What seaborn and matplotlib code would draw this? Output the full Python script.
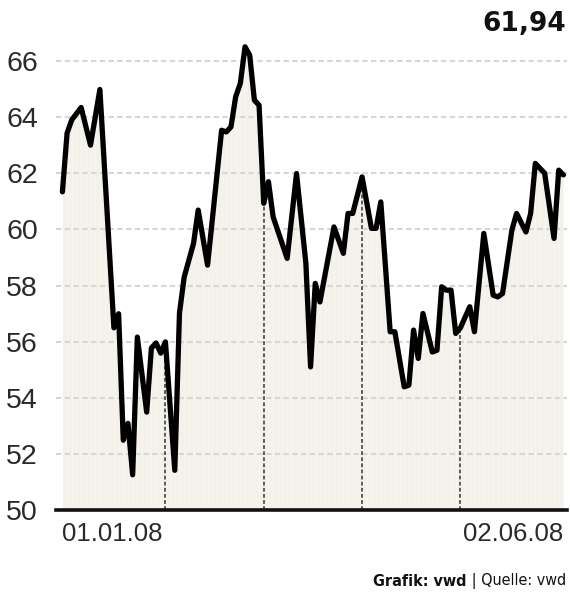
import numpy as np
import pandas as pd
import matplotlib
matplotlib.use("Agg")
import matplotlib.pyplot as plt
import seaborn as sns

# ---- data (trading-day index, price) ----
day = [0, 1, 2, 4, 6, 8, 11, 12, 13, 14, 15, 16, 18, 19, 20, 21, 22, 24, 25, 26,
       27, 28, 29, 31, 34, 35, 36, 37, 38, 39, 40, 41, 42, 43, 44, 45, 48, 50, 52, 53,
       54, 55, 58, 60, 61, 62, 64, 66, 67, 68, 70, 71, 73, 74, 75, 76, 77, 79, 80, 81,
       82, 83, 84, 85, 87, 88, 90, 92, 93, 94, 96, 97, 99, 100, 101, 103, 105, 106, 107]
price = [61.34, 63.43, 63.90, 64.34, 63.00, 64.98, 56.50, 57.00, 52.50, 53.10, 51.27, 56.17,
         53.50, 55.78, 55.96, 55.60, 56.00, 51.43, 57.02, 58.30,
         58.90, 59.50, 60.69, 58.73, 63.53, 63.47, 63.65, 64.72, 65.20, 66.50, 66.20, 64.60,
         64.42, 60.93, 61.70, 60.45, 58.97, 61.99, 58.79, 55.11,
         58.08, 57.42, 60.09, 59.15, 60.57, 60.57, 61.87, 60.04, 60.04, 60.98, 56.36, 56.36,
         54.40, 54.46, 56.42, 55.41, 57.01, 55.64, 55.70, 57.96,
         57.84, 57.84, 56.30, 56.50, 57.25, 56.36, 59.86, 57.66, 57.60, 57.72, 59.98, 60.57,
         59.91, 60.57, 62.35, 62.00, 59.68, 62.11, 61.94]
month_marks = [22, 43, 64, 85]
y_ticks = [50, 52, 54, 56, 58, 60, 62, 64, 66]
x_tick_pos = [0, 107]
x_tick_labels = ["01.01.08", "02.06.08"]
last_value = "61,94"
source_bold = "Grafik: vwd"
source_rest = " | Quelle: vwd"

df = pd.DataFrame({"day": day, "price": price})

sns.set_theme(style="white")
plt.rcParams["font.family"] = ["Liberation Sans", "DejaVu Sans"]

fig = plt.figure(figsize=(5.7, 5.96), dpi=100)
ax = fig.add_axes([0.098, 0.1435, 0.897, 0.811])

ymin, ymax = 50, 67.2
# fill under the line
ax.fill_between(df["day"], ymin, df["price"], color="#f3f1ea", lw=0, zorder=1)
# faint vertical stripes in the fill
stripe_x = np.arange(0, 108)
stripe_top = np.interp(stripe_x, df["day"], df["price"])
ax.vlines(stripe_x, ymin, stripe_top, color="white", lw=0.8, alpha=0.35, zorder=1.5)

# horizontal dashed grid
for yv in y_ticks[1:]:
    ax.axhline(yv, color="#d6d6d6", lw=1.5, ls=(0, (2.6, 1.6)), zorder=2)

# month dashed verticals up to the line
mtop = np.interp(month_marks, df["day"], df["price"])
ax.vlines(month_marks, ymin, mtop, color="#333333", lw=1.1, linestyles=(0, (2.5, 1.5)), zorder=2.5)

sns.lineplot(data=df, x="day", y="price", ax=ax, color="black", lw=3.8, zorder=3,
             solid_joinstyle="round", solid_capstyle="round")

ax.set_xlim(-1.4, 107.8)
ax.set_ylim(ymin, ymax)
ax.set_yticks(y_ticks)
ax.set_yticklabels([str(v) for v in y_ticks])
ax.set_xticks(x_tick_pos)
ax.set_xticklabels(x_tick_labels)
ax.set_xlabel("")
ax.set_ylabel("")
ax.tick_params(axis="y", length=0, pad=13, labelsize=20.5, labelcolor="#2a2a2a")
ax.tick_params(axis="x", length=0, pad=8, labelsize=18.5, labelcolor="#2a2a2a")
xl = ax.get_xticklabels()
xl[0].set_ha("left")
xl[1].set_ha("right")

for s in ["top", "right", "left"]:
    ax.spines[s].set_visible(False)
ax.spines["bottom"].set_color("#111111")
ax.spines["bottom"].set_linewidth(2.6)
ax.spines["bottom"].set_zorder(4)
ax.patch.set_alpha(0)

fig.text(0.993, 1 - 24 / 596, last_value, ha="right", va="center",
         fontsize=19, fontweight="bold", family=["DejaVu Sans"], color="#111111")

foot_fam = ["DejaVu Sans"]
t2 = fig.text(0.993, 0.025, source_rest, ha="right", va="center",
              fontsize=11.5, family=foot_fam, fontstretch="condensed", color="#111111")
fig.canvas.draw()
r = fig.canvas.get_renderer()
bb = t2.get_window_extent(renderer=r)
# squeeze the footer horizontally if no condensed face is available
target_w = 120.0
if bb.width > target_w * 1.05:
    t2.set_fontsize(11.5 * target_w / bb.width * 1.0)
    fig.canvas.draw()
    bb = t2.get_window_extent(renderer=r)
x_left = bb.x0 / fig.bbox.width
fig.text(x_left, 0.025, source_bold, ha="right", va="center", fontsize=t2.get_fontsize(),
         fontweight="bold", family=foot_fam, fontstretch="condensed", color="#111111")

fig.savefig("out.png", dpi=100)
